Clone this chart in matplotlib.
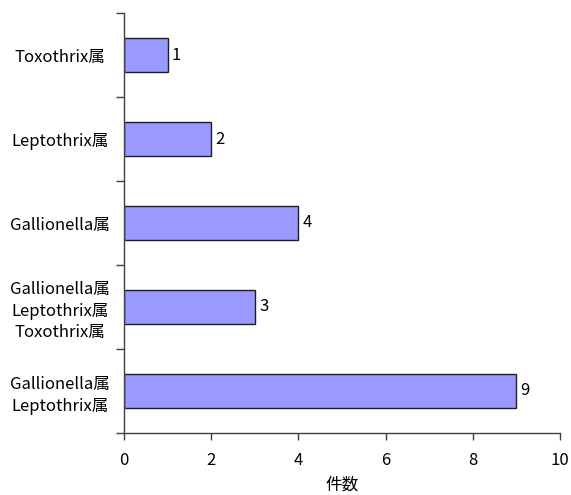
import matplotlib
matplotlib.use("Agg")
import matplotlib.pyplot as plt
import numpy as np

plt.rcParams['font.family'] = ['Noto Sans CJK JP', 'DejaVu Sans']

categories = [
    "Gallionella属\nLeptothrix属",
    "Gallionella属\nLeptothrix属\nToxothrix属",
    "Gallionella属",
    "Leptothrix属",
    "Toxothrix属",
]
counts = [9, 3, 4, 2, 1]
x_ticks = [0, 2, 4, 6, 8, 10]
x_label = "件数"

fig = plt.figure(figsize=(5.71, 4.95), dpi=100)
ax = fig.add_axes([0.2172, 0.1253, 0.7635, 0.8484])

pos = np.arange(len(categories))
ax.barh(pos, counts, height=0.4, color="#9999FF", edgecolor="#202020", linewidth=1.0)

for p, v in zip(pos, counts):
    ax.text(v + 0.1, p, str(v), va="center", ha="left", fontsize=12, color="black")

ax.set_xlim(0, 10)
ax.set_ylim(-0.5, len(categories) - 0.5)
ax.set_xticks(x_ticks)
ax.set_xticklabels([str(t) for t in x_ticks], fontsize=12)

# category labels centred on bars, tick marks on the boundaries between them
ax.set_yticks(np.arange(len(categories) + 1) - 0.5)
ax.set_yticklabels([])
ax.set_yticks(pos, minor=True)
ax.set_yticklabels(categories, minor=True, fontsize=12, ha="center",
                   multialignment="center", linespacing=1.35)
ax.tick_params(axis="y", which="minor", length=0, pad=46)
ax.tick_params(axis="y", which="major", length=6, width=1, color="#404040")
ax.tick_params(axis="x", length=5, width=1, color="#404040", pad=9)

ax.set_xlabel(x_label, fontsize=12, labelpad=5)

for s in ["top", "right"]:
    ax.spines[s].set_visible(False)
for s in ["left", "bottom"]:
    ax.spines[s].set_color("#404040")
    ax.spines[s].set_linewidth(1.0)

fig.savefig("out.png", dpi=100)
